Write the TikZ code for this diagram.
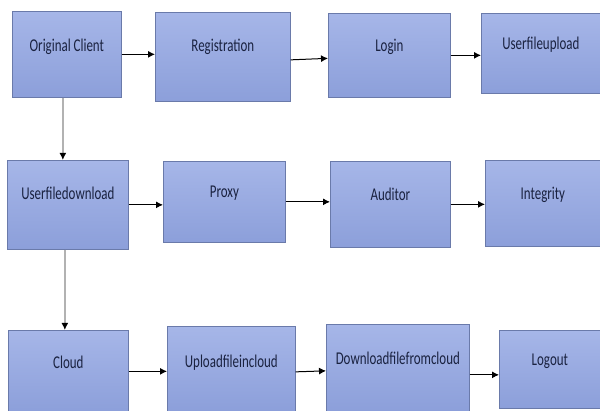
\documentclass[tikz,border=0pt]{standalone}
\usepackage{fontspec}
\newfontfamily\boxfont[FakeStretch=0.72]{Carlito}
\usepackage{xcolor}
\usepackage{tikz}
\usetikzlibrary{arrows.meta}
\definecolor{boxtop}{HTML}{A6B6E8}
\definecolor{boxbot}{HTML}{8C9FDA}
\definecolor{boxline}{HTML}{6A7AAA}
\definecolor{boxtext}{HTML}{1A2240}

\begin{document}
\begin{tikzpicture}[x=1pt,y=-1pt,
  box/.style={draw=boxline,line width=0.7pt,top color=boxtop,bottom color=boxbot,
    inner sep=0pt,anchor=north west,text=boxtext,font=\boxfont\fontsize{18}{18}\selectfont},
  flow/.style={-{Latex[length=7pt,width=7pt]},line width=1pt,black},
  down/.style={-{Latex[length=7pt,width=7pt,color=black]},line width=1.6pt,gray!60}]
\useasboundingbox (0,0) rectangle (600,411);
% first row
\node[box,minimum width=109pt,text height=40pt,text depth=46pt] (client) at (12,11) {Original Client};
\node[box,minimum width=135pt,text height=39pt,text depth=50pt] (reg) at (155,12) {Registration};
\node[box,minimum width=122pt,text height=38pt,text depth=46pt] (login) at (328,13) {Login};
\node[box,minimum width=119pt,text height=36pt,text depth=44pt] (upload) at (481,13) {Userfileupload};
% second row
\node[box,minimum width=121pt,text height=39pt,text depth=50pt] (download) at (7,160) {Userfiledownload};
\node[box,minimum width=122pt,text height=36pt,text depth=45pt] (proxy) at (163,161) {Proxy};
\node[box,minimum width=120pt,text height=39pt,text depth=47pt] (auditor) at (330,161) {Auditor};
\node[box,minimum width=115pt,text height=39pt,text depth=47pt] (integrity) at (485,160) {Integrity};
% third row
\node[box,minimum width=120pt,text height=38pt,text depth=44pt] (cloud) at (8,330) {Cloud};
\node[box,minimum width=128pt,text height=41pt,text depth=44pt] (upcloud) at (167,326) {Uploadfileincloud};
\node[box,minimum width=143pt,text height=40pt,text depth=47pt] (dlcloud) at (326,324) {Downloadfilefromcloud};
\node[box,minimum width=101pt,text height=35pt,text depth=43pt] (logout) at (499,330) {Logout};
% arrows
\draw[flow] (client.east) -- (reg.west |- client.east);
\draw[flow] ([yshift=-3pt]reg.east) -- ([yshift=-3pt]login.west);
\draw[flow] (login.east) -- (upload.west |- login.east);
\draw[flow] (download.east) -- (proxy.west |- download.east);
\draw[flow] (proxy.east) -- (auditor.west |- proxy.east);
\draw[flow] (auditor.east) -- (integrity.west |- auditor.east);
\draw[flow] (cloud.east) -- (upcloud.west |- cloud.east);
\draw[flow] ([yshift=-3pt]upcloud.east) -- ([yshift=-3pt]dlcloud.west);
\draw[flow] ([yshift=-7pt]dlcloud.east) -- ([yshift=-7pt]dlcloud.east -| logout.west);
\draw[down] ([xshift=-4pt]client.south) -- ([xshift=-4pt]client.south |- download.north);
\draw[down] ([xshift=-3pt]download.south) -- ([xshift=-3pt]download.south |- cloud.north);
\end{tikzpicture}
\end{document}
